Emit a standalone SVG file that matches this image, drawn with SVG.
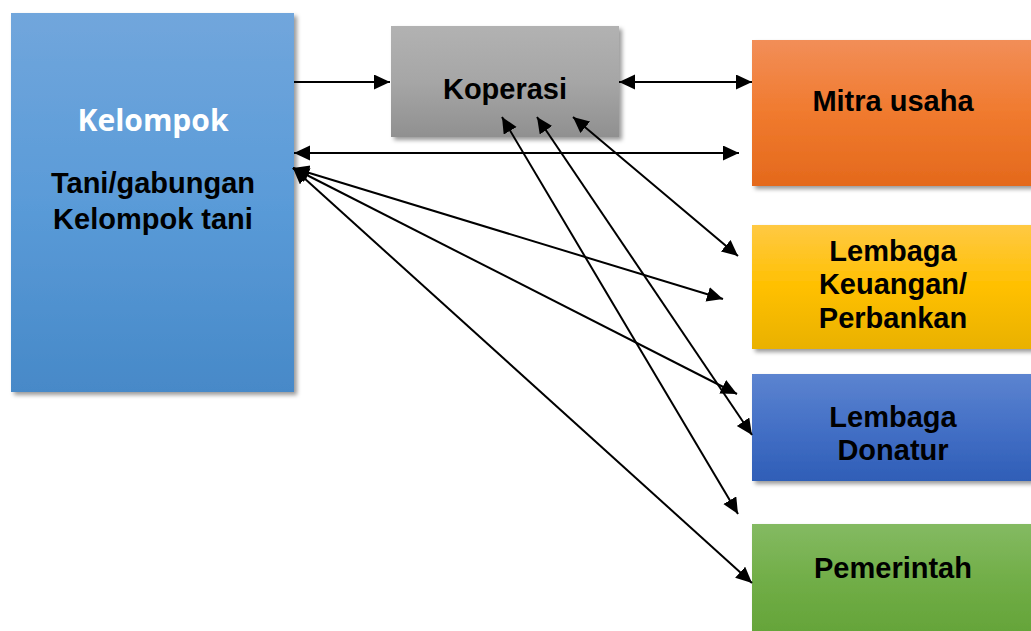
<svg xmlns="http://www.w3.org/2000/svg" width="1031" height="631" viewBox="0 0 1031 631">
<defs>
<style>
.lbl{font-family:"Liberation Sans",Arial,sans-serif;font-weight:bold;font-size:29px;fill:#000;text-anchor:middle}
.wl{font-family:"Open Sans","Liberation Sans",sans-serif;font-weight:bold;font-size:30px;fill:#fff;text-anchor:middle}
.cn{stroke:#000;stroke-width:2;fill:none}
</style>
<filter id="sh" x="-10%" y="-10%" width="130%" height="130%">
<feDropShadow dx="3" dy="3" stdDeviation="2.2" flood-color="#000" flood-opacity="0.4"/>
</filter>
<marker id="ah" markerUnits="userSpaceOnUse" markerWidth="17" markerHeight="16" refX="16" refY="7.5" orient="auto-start-reverse" viewBox="0 0 17 16">
<path d="M0,0 L16,7.5 L0,15 z" fill="#000"/>
</marker>
<linearGradient id="gBlue" x1="0" y1="0" x2="0" y2="1"><stop offset="0" stop-color="#71a6dc"/><stop offset="0.5" stop-color="#5a9bd8"/><stop offset="1" stop-color="#4789c8"/></linearGradient>
<linearGradient id="gGray" x1="0" y1="0" x2="0" y2="1"><stop offset="0" stop-color="#b2b2b2"/><stop offset="0.5" stop-color="#a6a6a6"/><stop offset="1" stop-color="#909090"/></linearGradient>
<linearGradient id="gOrange" x1="0" y1="0" x2="0" y2="1"><stop offset="0" stop-color="#f28e58"/><stop offset="0.5" stop-color="#f07a2e"/><stop offset="1" stop-color="#e4691c"/></linearGradient>
<linearGradient id="gYellow" x1="0" y1="0" x2="0" y2="1"><stop offset="0" stop-color="#ffc944"/><stop offset="0.5" stop-color="#ffc000"/><stop offset="1" stop-color="#e9b100"/></linearGradient>
<linearGradient id="gDBlue" x1="0" y1="0" x2="0" y2="1"><stop offset="0" stop-color="#5c84d0"/><stop offset="0.5" stop-color="#4470c6"/><stop offset="1" stop-color="#2f5eb7"/></linearGradient>
<linearGradient id="gGreen" x1="0" y1="0" x2="0" y2="1"><stop offset="0" stop-color="#84ba62"/><stop offset="0.5" stop-color="#70ad46"/><stop offset="1" stop-color="#62a236"/></linearGradient>
</defs>
<rect width="1031" height="631" fill="#fff"/>
<g id="kelompok">
<rect x="11" y="13" width="283" height="379" fill="url(#gBlue)" filter="url(#sh)"/>
<text class="wl" x="153" y="131">Kelompok</text>
<text class="lbl" x="153" y="193">Tani/gabungan</text>
<text class="lbl" x="153" y="229">Kelompok tani</text>
</g>
<g id="koperasi">
<rect x="391" y="26" width="228" height="111" fill="url(#gGray)" filter="url(#sh)"/>
<text class="lbl" x="505" y="99">Koperasi</text>
</g>
<g id="mitra">
<rect x="752" y="40" width="290" height="146" fill="url(#gOrange)" filter="url(#sh)"/>
<text class="lbl" x="893" y="111">Mitra usaha</text>
</g>
<g id="keuangan">
<rect x="752" y="225" width="290" height="124" fill="url(#gYellow)" filter="url(#sh)"/>
<text class="lbl" x="893" y="261">Lembaga</text>
<text class="lbl" x="893" y="294">Keuangan/</text>
<text class="lbl" x="893" y="328">Perbankan</text>
</g>
<g id="donatur">
<rect x="752" y="374" width="290" height="107" fill="url(#gDBlue)" filter="url(#sh)"/>
<text class="lbl" x="893" y="427">Lembaga</text>
<text class="lbl" x="893" y="460">Donatur</text>
</g>
<g id="pemerintah">
<rect x="752" y="524" width="290" height="120" fill="url(#gGreen)" filter="url(#sh)"/>
<text class="lbl" x="893" y="578">Pemerintah</text>
</g>
<g id="connectors">
<line class="cn" x1="294" y1="82" x2="390" y2="82" marker-end="url(#ah)"/>
<line class="cn" x1="619" y1="82" x2="752" y2="82" marker-start="url(#ah)" marker-end="url(#ah)"/>
<line class="cn" x1="294" y1="153" x2="739" y2="153" marker-start="url(#ah)" marker-end="url(#ah)"/>
<line class="cn" x1="293" y1="168" x2="723" y2="299" marker-start="url(#ah)" marker-end="url(#ah)"/>
<line class="cn" x1="293" y1="168" x2="737" y2="394" marker-start="url(#ah)" marker-end="url(#ah)"/>
<line class="cn" x1="293" y1="168" x2="752" y2="583" marker-start="url(#ah)" marker-end="url(#ah)"/>
<line class="cn" x1="502" y1="117" x2="738" y2="514" marker-start="url(#ah)" marker-end="url(#ah)"/>
<line class="cn" x1="537" y1="117" x2="752" y2="435" marker-start="url(#ah)" marker-end="url(#ah)"/>
<line class="cn" x1="573" y1="117" x2="738" y2="256" marker-start="url(#ah)" marker-end="url(#ah)"/>
</g>
</svg>
